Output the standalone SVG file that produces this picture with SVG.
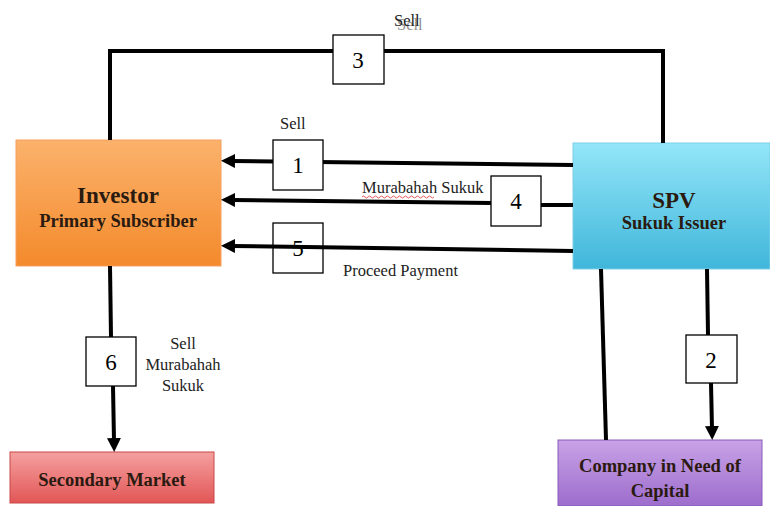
<svg xmlns="http://www.w3.org/2000/svg" width="770" height="506" viewBox="0 0 770 506">
<style>
.ln{stroke:#000;stroke-width:4;fill:none}
.nb{fill:#fff;stroke:#000;stroke-width:1.3}
.num{font-family:"Liberation Serif",serif;font-size:23px;fill:#000;text-anchor:middle}
.lbl{font-family:"Liberation Serif",serif;font-size:16.5px;fill:#222}
.t1{font-family:"Liberation Serif",serif;font-weight:bold;fill:#2a1a10;text-anchor:middle}
</style>
<defs>
<marker id="ah" markerWidth="3.5" markerHeight="3.5" refX="0.75" refY="1.75" orient="auto" markerUnits="strokeWidth">
<path d="M0,0 L3.5,1.75 L0,3.5 Z" fill="#000"/>
</marker>
<linearGradient id="gO" x1="0" y1="0" x2="0" y2="1"><stop offset="0" stop-color="#fbb26c"/><stop offset="1" stop-color="#f48a2c"/></linearGradient>
<linearGradient id="gB" x1="0" y1="0" x2="0" y2="1"><stop offset="0" stop-color="#93e6f8"/><stop offset="1" stop-color="#40b6da"/></linearGradient>
<linearGradient id="gR" x1="0" y1="0" x2="0" y2="1"><stop offset="0" stop-color="#f5a0a0"/><stop offset="1" stop-color="#e25656"/></linearGradient>
<linearGradient id="gP" x1="0" y1="0" x2="0" y2="1"><stop offset="0" stop-color="#c8a2e6"/><stop offset="1" stop-color="#9d6dcd"/></linearGradient>
</defs>

<g id="investor">
<rect x="16" y="140" width="205" height="126" fill="url(#gO)" stroke="#f4a060" stroke-width="1"/>
<text class="t1" x="118" y="203" font-size="23">Investor</text>
<text class="t1" x="118" y="227" font-size="18.5">Primary Subscriber</text>
</g>
<g id="spv">
<rect x="573" y="143" width="197" height="126" fill="url(#gB)" stroke="#7cd0e8" stroke-width="1"/>
<text class="t1" x="674" y="208" font-size="23">SPV</text>
<text class="t1" x="674" y="229" font-size="18.5">Sukuk Issuer</text>
</g>
<g id="secondary">
<rect x="10" y="452" width="204" height="51" fill="url(#gR)" stroke="#c84848" stroke-width="1"/>
<text class="t1" x="112" y="486" font-size="18.5">Secondary Market</text>
</g>
<g id="company">
<rect x="558" y="440" width="204" height="66" fill="url(#gP)" stroke="#8a5ab8" stroke-width="1"/>
<text class="t1" x="660" y="472" font-size="18.5">Company in Need of</text>
<text class="t1" x="660" y="497" font-size="18.5">Capital</text>
</g>

<g id="connectors">
<polyline class="ln" points="110,140 110,51 663,51 663,143"/>
<line class="ln" x1="573" y1="165" x2="232" y2="161" marker-end="url(#ah)"/>
<line class="ln" x1="573" y1="205" x2="541" y2="205"/>
<line class="ln" x1="491" y1="203" x2="232" y2="200" marker-end="url(#ah)"/>
<line class="ln" x1="110" y1="266" x2="111" y2="337"/>
<line class="ln" x1="113" y1="386" x2="114" y2="441" marker-end="url(#ah)"/>
<line class="ln" x1="601" y1="269" x2="606" y2="440"/>
<line class="ln" x1="707" y1="269" x2="708" y2="335"/>
<line class="ln" x1="711" y1="383" x2="712" y2="429" marker-end="url(#ah)"/>
</g>

<g id="step3">
<rect class="nb" x="333" y="35" width="51" height="49"/>
<text class="num" x="358" y="68">3</text>
</g>
<g id="step1">
<rect class="nb" x="273" y="140" width="50" height="50"/>
<text class="num" x="298" y="173">1</text>
</g>
<g id="step4">
<rect class="nb" x="491" y="176" width="50" height="50"/>
<text class="num" x="516" y="209">4</text>
</g>
<g id="step5">
<rect class="nb" x="273" y="223" width="50" height="50"/>
<text class="num" x="298" y="256">5</text>
</g>
<line class="ln" x1="573" y1="251" x2="232" y2="246" marker-end="url(#ah)"/>
<g id="step6">
<rect class="nb" x="86" y="337" width="50" height="49"/>
<text class="num" x="111" y="370">6</text>
</g>
<g id="step2">
<rect class="nb" x="686" y="335" width="51" height="48"/>
<text class="num" x="711" y="368">2</text>
</g>

<g id="labels">
<text class="lbl" x="397" y="30" fill="#999" opacity="0.5">Sell</text>
<text class="lbl" x="394" y="26">Sell</text>
<text class="lbl" x="280" y="129">Sell</text>
<text class="lbl" x="362" y="193">Murabahah Sukuk</text>
<path d="M362,197 q1.5,-2 3,0 t3,0 t3,0 t3,0 t3,0 t3,0 t3,0 t3,0 t3,0 t3,0 t3,0 t3,0 t3,0 t3,0 t3,0 t3,0 t3,0 t3,0 t3,0 t3,0 t3,0 t3,0 t3,0 t3,0" stroke="#e03030" stroke-width="0.8" fill="none"/>
<text class="lbl" x="343" y="276">Proceed Payment</text>
<text class="lbl" x="183" y="349" text-anchor="middle">Sell</text>
<text class="lbl" x="183" y="370" text-anchor="middle">Murabahah</text>
<text class="lbl" x="183" y="391" text-anchor="middle">Sukuk</text>
</g>
</svg>
